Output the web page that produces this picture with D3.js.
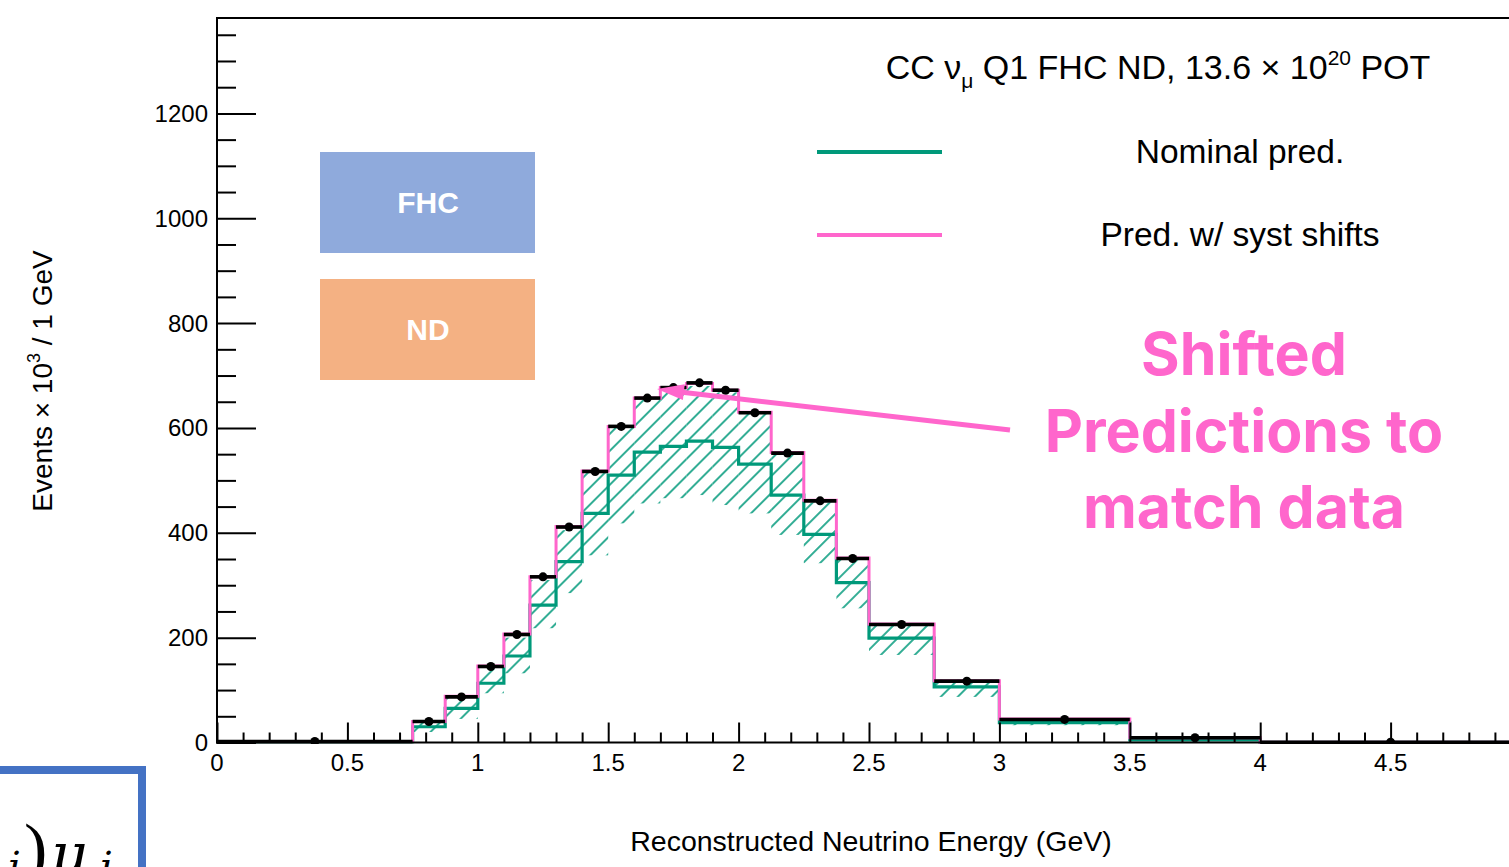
<!DOCTYPE html>
<html>
<head>
<meta charset="utf-8">
<script src="https://cdn.jsdelivr.net/npm/d3@7"></script>
<style>
  html, body { margin: 0; padding: 0; background: #fff; overflow: hidden; }
  svg { display: block; }
</style>
</head>
<body>
<svg id="chart" width="1509" height="867"></svg>
<script>
// ---------------- data ----------------
const binEdges = [0, 0.75, 0.875, 1.0, 1.1, 1.2, 1.3, 1.4, 1.5, 1.6, 1.7, 1.8, 1.9, 2.0, 2.125, 2.25, 2.375, 2.5, 2.75, 3.0, 3.5, 4.0, 5.0];
const dataValues    = [2, 40, 87, 145, 206, 316, 411, 517, 603, 657, 677, 686, 672, 629, 552, 461, 351, 225, 117, 44, 9, 0.5];
const shiftedPred   = [2, 40, 88, 146, 207, 316, 412, 518, 603, 657, 677, 685, 672, 630, 553, 462, 352, 226, 118, 45, 9, 0.5];
const nominalPred   = [1.5, 30, 65, 113, 165, 262, 345, 437, 510, 554, 565, 575, 563, 531, 472, 397, 305, 199, 106, 38, 5, 0.3];
const bandUpper     = [2.5, 40, 85, 140, 200, 310, 405, 515, 600, 655, 672, 680, 668, 628, 550, 458, 350, 228, 120, 44, 7, 0.4];
const bandLower     = [1, 20, 45, 94, 132, 218, 285, 357, 418, 456, 466, 472, 453, 437, 396, 342, 256, 167, 87, 33, 4, 0.2];
const xTickLabels = ["0", "0.5", "1", "1.5", "2", "2.5", "3", "3.5", "4", "4.5"];
const yTickLabels = ["0", "200", "400", "600", "800", "1000", "1200"];
const legendEntries = ["Nominal pred.", "Pred. w/ syst shifts"];
const annotationLines = ["Shifted", "Predictions to", "match data"];

// ---------------- setup ----------------
const GREEN = "#00997a", PINK = "#ff66cc", ANNO = "#ff66cc";
const FONT = "'Liberation Sans', Arial, Helvetica, sans-serif";
const svg = d3.select("#chart");
const x = d3.scaleLinear().domain([0, 5]).range([217, 1521]);
const y = d3.scaleLinear().domain([0, 1382]).range([742.5, 18]);

const bins = binEdges.slice(0, -1).map((lo, i) => ({
  lo, hi: binEdges[i + 1],
  data: dataValues[i], pink: shiftedPred[i], green: nominalPred[i],
  up: bandUpper[i], dn: bandLower[i]
}));

// hatch pattern
const defs = svg.append("defs");
defs.append("pattern").attr("id", "hatch")
  .attr("patternUnits", "userSpaceOnUse").attr("width", 12).attr("height", 12)
  .attr("patternTransform", "rotate(45)")
  .append("line").attr("x1", 6).attr("y1", 0).attr("x2", 6).attr("y2", 12)
  .attr("stroke", GREEN).attr("stroke-width", 1.6);
defs.append("clipPath").attr("id", "plotclip").append("rect")
  .attr("x", 217).attr("y", 18).attr("width", 1400).attr("height", 726);

const plot = svg.append("g").attr("clip-path", "url(#plotclip)");

// band
plot.append("g").selectAll("rect").data(bins).join("rect")
  .attr("x", d => x(d.lo)).attr("width", d => x(d.hi) - x(d.lo))
  .attr("y", d => y(d.up)).attr("height", d => Math.max(0, y(d.dn) - y(d.up)))
  .attr("fill", "url(#hatch)");

// step histogram helper
function stepPath(key) {
  const pts = [];
  bins.forEach(b => { pts.push([x(b.lo), y(b[key])]); pts.push([x(b.hi), y(b[key])]); });
  return d3.line()(pts);
}
plot.append("path").attr("d", stepPath("green")).attr("fill", "none")
  .attr("stroke", GREEN).attr("stroke-width", 3.2);
plot.append("path").attr("d", stepPath("pink")).attr("fill", "none")
  .attr("stroke", PINK).attr("stroke-width", 3);

// data: horizontal bars + points
plot.append("g").selectAll("line").data(bins).join("line")
  .attr("x1", d => x(d.lo)).attr("x2", d => x(d.hi))
  .attr("y1", d => y(d.data)).attr("y2", d => y(d.data))
  .attr("stroke", "#000").attr("stroke-width", 3.6);
plot.append("g").selectAll("circle").data(bins).join("circle")
  .attr("cx", d => x((d.lo + d.hi) / 2)).attr("cy", d => y(d.data))
  .attr("r", 4.5).attr("fill", "#000");

// ---------------- frame & axes ----------------
svg.append("line").attr("x1", 217).attr("x2", 1509).attr("y1", 18).attr("y2", 18)
  .attr("stroke", "#000").attr("stroke-width", 2);
svg.append("line").attr("x1", 217).attr("x2", 217).attr("y1", 17).attr("y2", 743.5)
  .attr("stroke", "#000").attr("stroke-width", 2);
svg.append("line").attr("x1", 216).attr("x2", 1509).attr("y1", 742.5).attr("y2", 742.5)
  .attr("stroke", "#000").attr("stroke-width", 2);

// y ticks (pointing inward)
const yMinor = d3.range(0, 1351, 50).filter(v => v % 200 !== 0);
const yMajor = yTickLabels.map(Number);
const yAxisMinor = d3.axisRight(y).tickValues(yMinor).tickSize(19).tickFormat("");
const yAxisMajor = d3.axisRight(y).tickValues(yMajor).tickSize(39).tickFormat("");
[yAxisMinor, yAxisMajor].forEach(ax => {
  const g = svg.append("g").attr("transform", "translate(217,0)").call(ax);
  g.select(".domain").remove();
  g.selectAll("line").attr("stroke", "#000").attr("stroke-width", 2);
});
svg.append("g").selectAll("text").data(yTickLabels).join("text")
  .attr("x", 208).attr("y", d => y(+d) + 8.5)
  .attr("text-anchor", "end").attr("font-family", FONT).attr("font-size", 24)
  .attr("fill", "#000").text(d => d);

// x ticks (pointing up)
const xMinor = d3.range(1, 50).map(v => v / 10).filter(v => Math.abs(v * 2 - Math.round(v * 2)) > 1e-6);
const xMajor = xTickLabels.map(Number);
const xAxisMinor = d3.axisTop(x).tickValues(xMinor).tickSize(10).tickFormat("");
const xAxisMajor = d3.axisTop(x).tickValues(xMajor).tickSize(20).tickFormat("");
[xAxisMinor, xAxisMajor].forEach(ax => {
  const g = svg.append("g").attr("transform", "translate(0,742.5)").call(ax);
  g.select(".domain").remove();
  g.selectAll("line").attr("stroke", "#000").attr("stroke-width", 2);
});
svg.append("g").selectAll("text").data(xTickLabels).join("text")
  .attr("x", d => x(+d)).attr("y", 771)
  .attr("text-anchor", "middle").attr("font-family", FONT).attr("font-size", 24)
  .attr("fill", "#000").text(d => d);

// axis titles
svg.append("text").attr("x", 871).attr("y", 851).attr("text-anchor", "middle")
  .attr("font-family", FONT).attr("font-size", 28.5).text("Reconstructed Neutrino Energy (GeV)");
const yt = svg.append("text").attr("transform", "translate(52,381) rotate(-90)")
  .attr("text-anchor", "middle").attr("font-family", FONT).attr("font-size", 28);
yt.append("tspan").text("Events × 10");
yt.append("tspan").attr("font-size", 18).attr("dy", -12).text("3");
yt.append("tspan").attr("dy", 12).text(" / 1 GeV");

// ---------------- legend ----------------
const lt = svg.append("text").attr("x", 1158).attr("y", 79).attr("text-anchor", "middle")
  .attr("font-family", FONT).attr("font-size", 34);
lt.append("tspan").text("CC ν");
lt.append("tspan").attr("font-size", 21).attr("dy", 9).text("μ");
lt.append("tspan").attr("dy", -9).text(" Q1 FHC ND, 13.6 × 10");
lt.append("tspan").attr("font-size", 21).attr("dy", -14).text("20");
lt.append("tspan").attr("dy", 14).text(" POT");

const legColors = [GREEN, PINK];
const legY = [152, 235];
legendEntries.forEach((t, i) => {
  svg.append("line").attr("x1", 817).attr("x2", 942).attr("y1", legY[i]).attr("y2", legY[i])
    .attr("stroke", legColors[i]).attr("stroke-width", 4);
  svg.append("text").attr("x", 1240).attr("y", legY[i] + 11).attr("text-anchor", "middle")
    .attr("font-family", FONT).attr("font-size", 33.5).text(t);
});

// ---------------- FHC / ND boxes ----------------
const boxes = [{t: "FHC", y0: 152, c: "#8faadc"}, {t: "ND", y0: 279, c: "#f4b183"}];
boxes.forEach(b => {
  svg.append("rect").attr("x", 320).attr("y", b.y0).attr("width", 215).attr("height", 101).attr("fill", b.c);
  svg.append("text").attr("x", 428).attr("y", b.y0 + 61).attr("text-anchor", "middle")
    .attr("font-family", FONT).attr("font-weight", "bold").attr("font-size", 30)
    .attr("fill", "#fff").text(b.t);
});

// ---------------- annotation ----------------
const annoBase = [375, 452, 528];
annotationLines.forEach((t, i) => {
  svg.append("text").attr("x", 1244).attr("y", annoBase[i]).attr("text-anchor", "middle")
    .attr("font-family", "Inter, 'Open Sans', sans-serif").attr("font-weight", 700)
    .attr("font-size", 59).attr("fill", ANNO).text(t);
});
// arrow
svg.append("line").attr("x1", 1010).attr("y1", 430).attr("x2", 680).attr("y2", 392)
  .attr("stroke", ANNO).attr("stroke-width", 5);
(function () {
  const tip = [657, 389], ang = Math.atan2(430 - 389, 1010 - 657);
  const L = 27, W = 8;
  const bx = tip[0] + L * Math.cos(ang), by = tip[1] + L * Math.sin(ang);
  const px = -Math.sin(ang) * W, py = Math.cos(ang) * W;
  svg.append("path")
    .attr("d", `M${tip[0]},${tip[1]}L${bx + px},${by + py}L${bx - px},${by - py}Z`)
    .attr("fill", ANNO);
})();

// ---------------- bottom-left fragment ----------------
svg.append("rect").attr("x", -20).attr("y", 770).attr("width", 162).attr("height", 200)
  .attr("fill", "#fff").attr("stroke", "#4472c4").attr("stroke-width", 8);
const SERIF = "'DejaVu Serif', 'Liberation Serif', serif";
svg.append("text").attr("x", 8).attr("y", 880).attr("font-family", SERIF).attr("font-style", "italic")
  .attr("font-size", 40).text("i");
svg.append("text").attr("x", 24).attr("y", 872).attr("font-family", "'Liberation Serif', serif")
  .attr("font-size", 70).text(")");
svg.append("text").attr("x", 50).attr("y", 874).attr("font-family", SERIF).attr("font-style", "italic")
  .attr("font-size", 58).text("μ");
svg.append("text").attr("x", 100).attr("y", 880).attr("font-family", SERIF).attr("font-style", "italic")
  .attr("font-size", 40).text("i");
</script>
</body>
</html>
